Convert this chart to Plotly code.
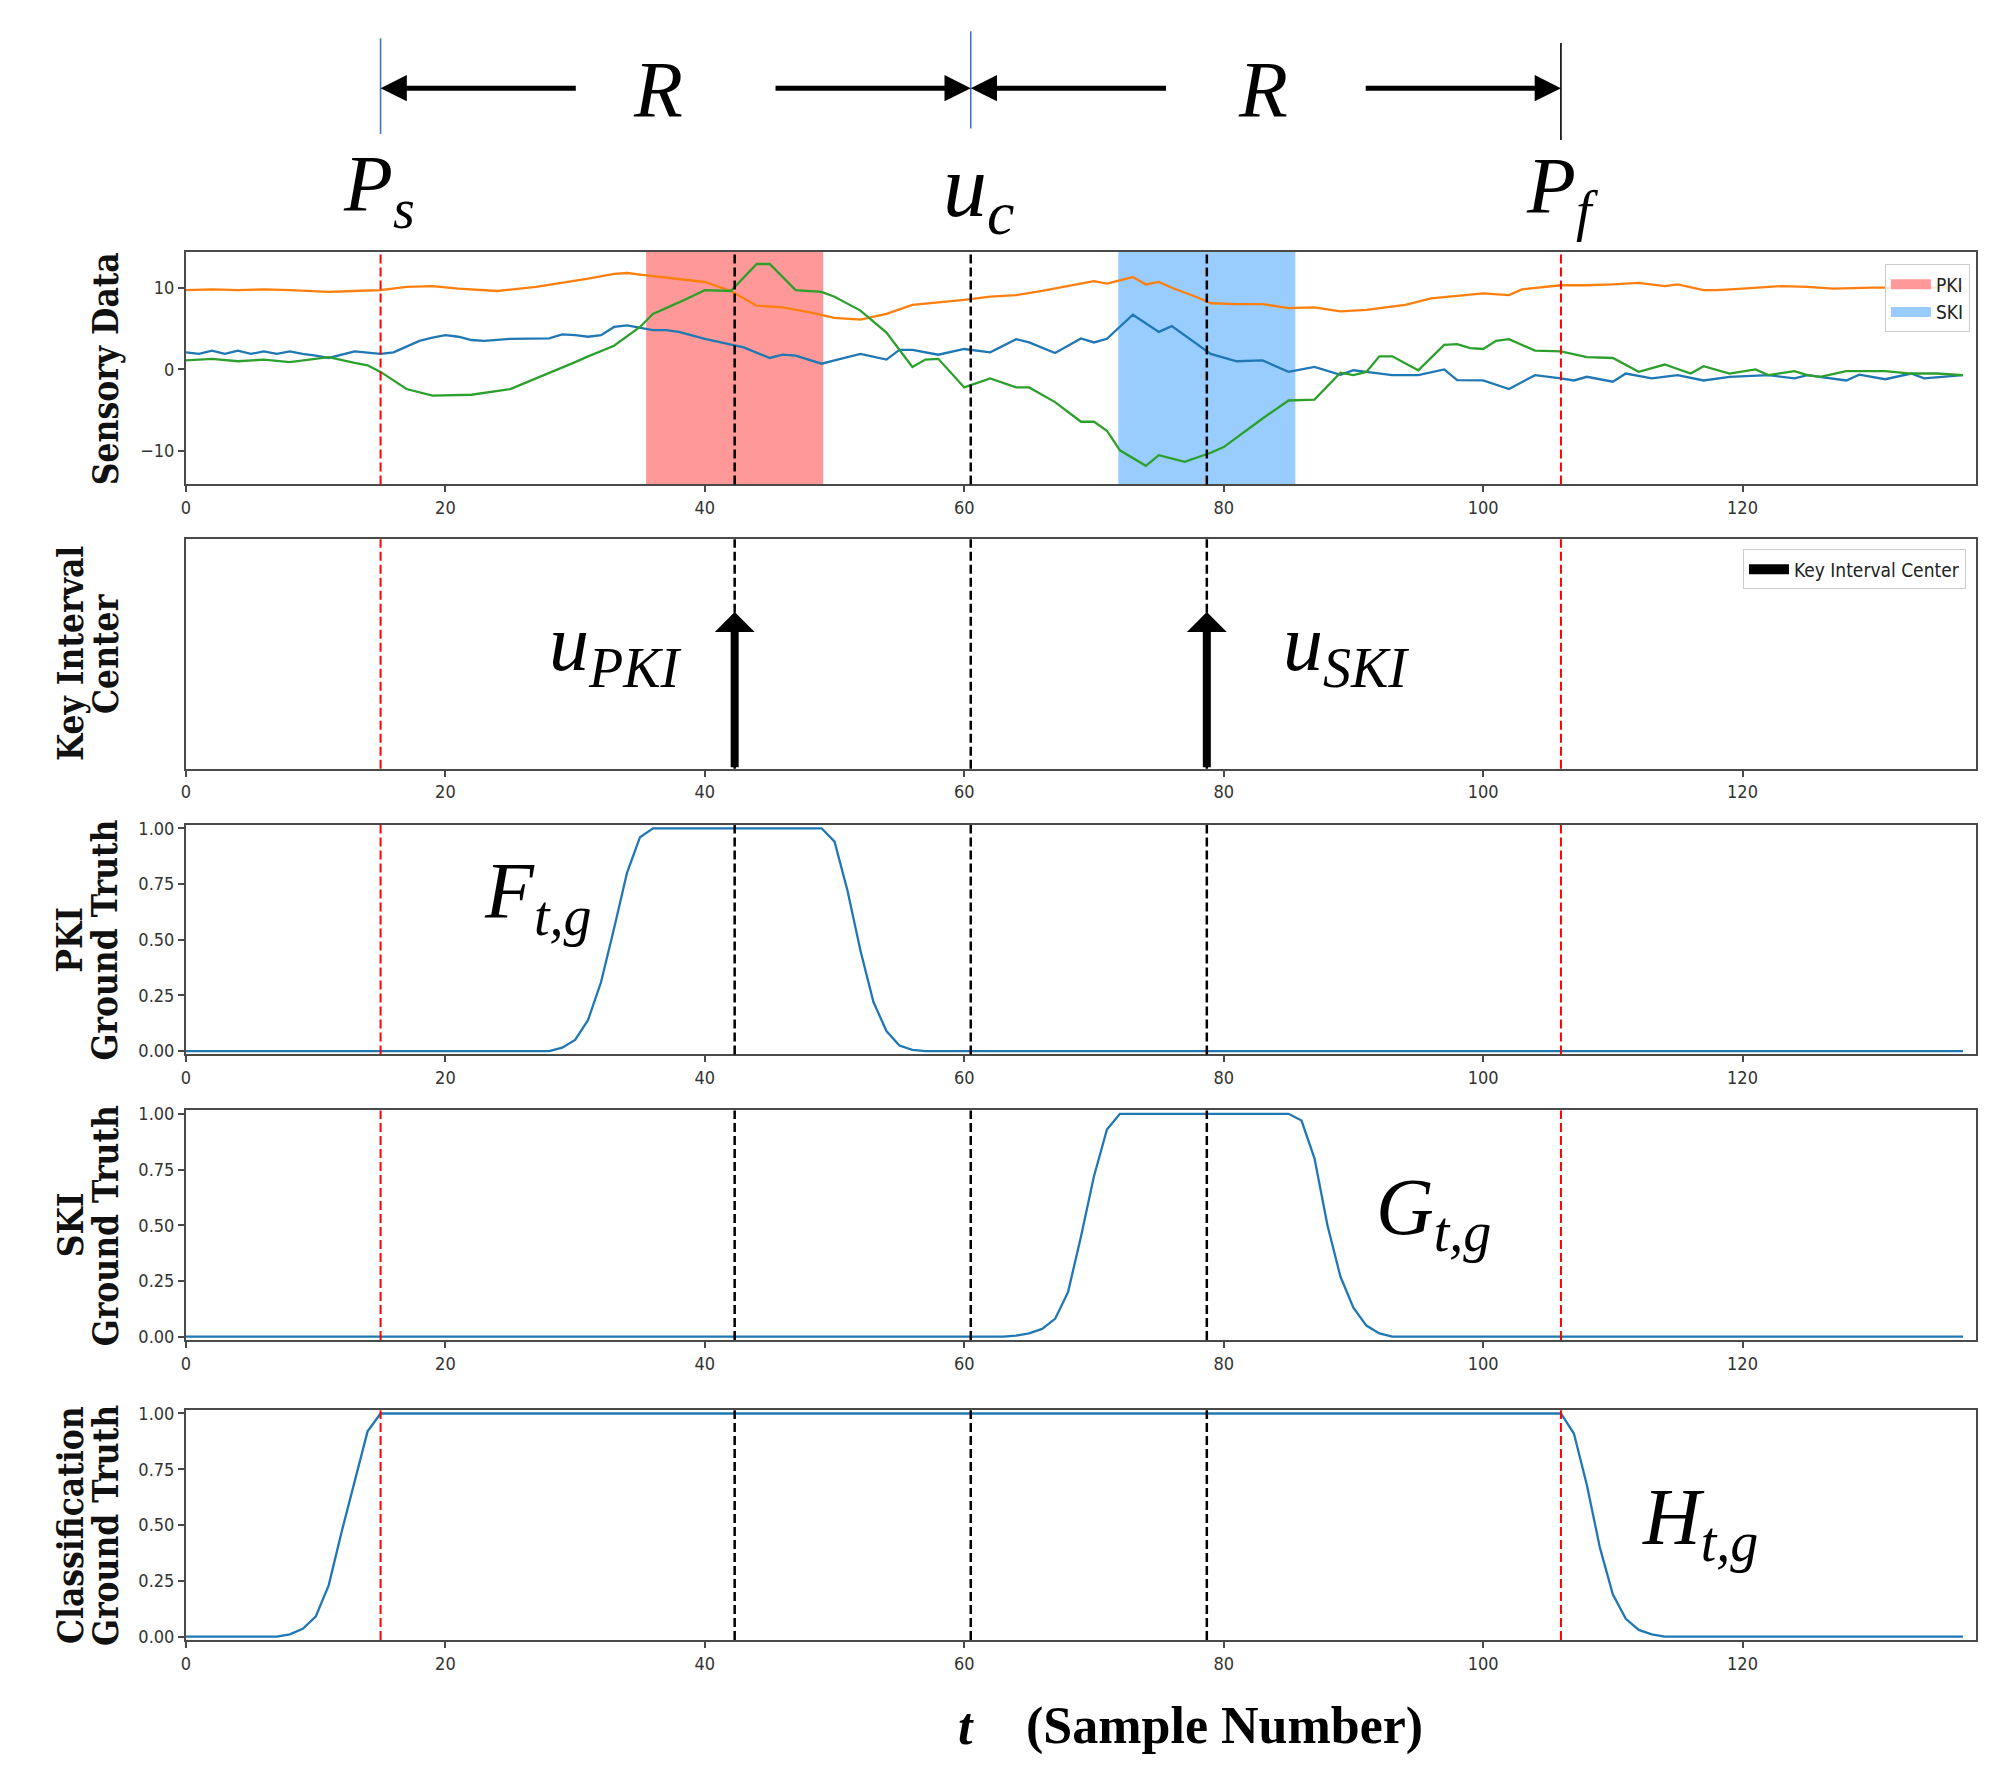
import plotly.graph_objects as go
from plotly.subplots import make_subplots

# ---------------- data ----------------
T_MAX = 138
PS = 15            # start of window
PF = 106           # end of window
UC = 60.5          # window centre
R = 45.5           # half window
PKI_CENTER = 42.3
SKI_CENTER = 78.7
PKI_SPAN = [35.475, 49.125]
SKI_SPAN = [71.875, 85.525]

# sensory channel 1 (blue)
blue_t = [0, 1, 2, 3, 4, 5, 6, 7, 8, 9, 10, 11, 13, 15, 16, 17, 18, 19, 20, 21, 22, 23, 25, 28, 29,
          30, 31, 32, 33, 34, 35, 36, 37, 38, 40, 42, 43, 45, 46, 47, 49, 50, 52, 54, 55, 56, 58,
          60, 62, 64, 65, 67, 69, 70, 71, 73, 75, 76, 79, 81, 83, 85, 87, 89, 90, 91, 93, 95, 97,
          98, 100, 102, 104, 106, 107, 108, 110, 111, 113, 115, 117, 119, 122, 124, 125, 128, 129,
          131, 133, 134, 137]
blue_v = [2.1, 1.9, 2.3, 1.9, 2.3, 1.9, 2.2, 1.9, 2.2, 1.9, 1.7, 1.4, 2.2, 1.9, 2.1, 2.8, 3.5,
          3.9, 4.2, 4.0, 3.6, 3.5, 3.75, 3.8, 4.3, 4.2, 4.0, 4.2, 5.2, 5.4, 5.1, 4.8, 4.8, 4.6,
          3.75, 3.0, 2.7, 1.4, 1.8, 1.7, 0.7, 1.1, 1.9, 1.2, 2.4, 2.4, 1.8, 2.5, 2.1, 3.7, 3.3,
          2.0, 3.8, 3.3, 3.75, 6.7, 4.6, 5.3, 1.9, 1.0, 1.1, -0.3, 0.3, -0.65, -0.1, -0.3, -0.7,
          -0.7, 0.0, -1.3, -1.35, -2.4, -0.7, -1.1, -1.35, -0.9, -1.5, -0.5, -1.1, -0.7, -1.35,
          -0.9, -0.7, -1.1, -0.7, -1.35, -0.65, -1.2, -0.5, -1.1, -0.7]

# sensory channel 2 (orange)
orange_t = [0, 2, 4, 6, 8, 10, 11, 13, 15, 17, 19, 21, 24, 27, 29, 31, 33, 34, 35, 38, 40, 42,
            44, 46, 48, 50, 52, 54, 56, 58, 60, 62, 64, 66, 68, 70, 71, 73, 74, 75, 76, 78, 79,
            81, 83, 85, 87, 89, 91, 94, 96, 98, 100, 102, 103, 106, 108, 110, 112, 114, 115, 117,
            118, 120, 122, 123, 125, 127, 130, 133, 137]
orange_v = [9.7, 9.8, 9.7, 9.8, 9.7, 9.6, 9.5, 9.6, 9.7, 10.1, 10.2, 9.9, 9.6, 10.1, 10.6, 11.1,
            11.7, 11.8, 11.6, 11.1, 10.7, 9.6, 7.8, 7.6, 7.0, 6.3, 6.1, 6.8, 7.9, 8.2, 8.5, 8.9,
            9.1, 9.6, 10.2, 10.8, 10.5, 11.3, 10.4, 10.7, 10.0, 8.8, 8.1, 8.0, 8.0, 7.5, 7.6, 7.1,
            7.3, 7.9, 8.7, 9.0, 9.3, 9.1, 9.8, 10.3, 10.3, 10.4, 10.6, 10.2, 10.4, 9.7, 9.7, 9.9,
            10.1, 10.2, 10.1, 9.9, 10.0, 10.0, 10.0]

# sensory channel 3 (green)
green_t = [0, 2, 4, 6, 8, 10, 11, 13, 14, 15, 17, 19, 22, 25, 27, 28, 30, 31, 33, 35, 36, 38, 40,
           42, 44, 45, 47, 49, 50, 52, 54, 56, 57, 58, 60, 62, 64, 65, 67, 69, 70, 71, 72, 74,
           75, 77, 79, 80, 82, 83, 85, 87, 89, 90, 91, 92, 93, 95, 97, 98, 99, 100, 101, 102,
           104, 106, 108, 110, 112, 114, 116, 117, 119, 121, 122, 124, 125, 126, 128, 131, 133,
           135, 137]
green_v = [1.1, 1.3, 1.0, 1.2, 0.9, 1.3, 1.5, 0.8, 0.5, -0.3, -2.4, -3.2, -3.1, -2.4, -1.1, -0.4,
           0.9, 1.6, 2.9, 5.2, 6.8, 8.2, 9.7, 9.6, 12.9, 12.9, 9.7, 9.5, 8.9, 7.2, 4.5, 0.3, 1.2,
           1.3, -2.2, -1.1, -2.2, -2.2, -4.0, -6.4, -6.4, -7.5, -9.9, -11.8, -10.5, -11.3, -10.2,
           -9.5, -7.1, -6.0, -3.8, -3.7, -0.4, -0.7, -0.3, 1.6, 1.6, -0.1, 3.0, 3.1, 2.6, 2.5,
           3.5, 3.7, 2.3, 2.2, 1.5, 1.4, -0.3, 0.6, -0.5, 0.4, -0.5, 0.0, -0.7, -0.2, -0.7, -0.9,
           -0.2, -0.2, -0.5, -0.5, -0.7]

# ground-truth curves
pki_t = [0, 28, 29, 30, 31, 32, 33, 34, 35, 36, 49, 50, 51, 52, 53, 54, 55, 56, 57, 137]
pki_v = [0, 0, 0.015, 0.05, 0.14, 0.31, 0.55, 0.8, 0.96, 1.0, 1.0, 0.94, 0.72, 0.45, 0.22, 0.09,
         0.025, 0.005, 0, 0]
ski_t = [0, 63, 64, 65, 66, 67, 68, 69, 70, 71, 72, 85, 86, 87, 88, 89, 90, 91, 92, 93, 137]
ski_v = [0, 0, 0.005, 0.015, 0.035, 0.08, 0.2, 0.45, 0.72, 0.93, 1.0, 1.0, 0.97, 0.8, 0.5, 0.27,
         0.13, 0.05, 0.015, 0.0, 0]
cls_t = [0, 7, 8, 9, 10, 11, 12, 13, 14, 15, 106, 107, 108, 109, 110, 111, 112, 113, 114, 137]
cls_v = [0, 0, 0.01, 0.035, 0.09, 0.23, 0.47, 0.7, 0.92, 1.0, 1.0, 0.91, 0.68, 0.4, 0.19, 0.08,
         0.03, 0.01, 0, 0]

x_ticks = [0, 20, 40, 60, 80, 100, 120]
sens_ticks = [-10, 0, 10]
gt_ticks = [0, 0.25, 0.5, 0.75, 1.0]

# ---------------- styles ----------------
C_BLUE, C_ORANGE, C_GREEN = "#1f77b4", "#ff7f0e", "#2ca02c"
C_PKI, C_SKI = "rgb(255,152,152)", "rgb(153,204,255)"
SPINE = "#4a4a4a"
TICK_FONT = dict(family="DejaVu Sans Condensed, DejaVu Sans, sans-serif", size=18, color="#333")
TITLE_FONT = dict(family="DejaVu Serif Condensed, DejaVu Serif, serif", size=35, color="#111",
                  weight="bold")
MATH_FONT = dict(family="Liberation Serif, serif", size=80, color="black")
LEG_FONT = dict(family="DejaVu Sans Condensed, DejaVu Sans, sans-serif", size=19, color="#222")

fig = make_subplots(rows=5, cols=1)
domains = [(0.8325, 1.0), (0.6277, 0.7930), (0.4219, 0.5872), (0.2161, 0.3815), (0.0, 0.1656)]

line_w = 2.3
fig.add_trace(go.Scatter(x=blue_t, y=blue_v, mode="lines", line=dict(color=C_BLUE, width=line_w),
                         showlegend=False), row=1, col=1)
fig.add_trace(go.Scatter(x=orange_t, y=orange_v, mode="lines",
                         line=dict(color=C_ORANGE, width=line_w), showlegend=False), row=1, col=1)
fig.add_trace(go.Scatter(x=green_t, y=green_v, mode="lines", line=dict(color=C_GREEN, width=line_w),
                         showlegend=False), row=1, col=1)
# legend entries (patch-like thick lines)
fig.add_trace(go.Scatter(x=[None], y=[None], mode="lines", name="PKI",
                         line=dict(color=C_PKI, width=14), legend="legend"), row=1, col=1)
fig.add_trace(go.Scatter(x=[None], y=[None], mode="lines", name="SKI",
                         line=dict(color=C_SKI, width=14), legend="legend"), row=1, col=1)
fig.add_trace(go.Scatter(x=[None], y=[None], mode="lines", name="Key Interval Center",
                         line=dict(color="black", width=14), legend="legend2"), row=2, col=1)

# ground truth panels
for r, (tt, vv) in zip([3, 4, 5], [(pki_t, pki_v), (ski_t, ski_v), (cls_t, cls_v)]):
    fig.add_trace(go.Scatter(x=tt, y=vv, mode="lines", line=dict(color=C_BLUE, width=line_w),
                             showlegend=False), row=r, col=1)

# panel 1: key-interval spans
fig.add_vrect(x0=PKI_SPAN[0], x1=PKI_SPAN[1], row=1, col=1, fillcolor=C_PKI, opacity=1,
              line_width=0, layer="below")
fig.add_vrect(x0=SKI_SPAN[0], x1=SKI_SPAN[1], row=1, col=1, fillcolor=C_SKI, opacity=1,
              line_width=0, layer="below")

# vertical reference lines in all panels
for r in range(1, 6):
    for xv in (PS, PF):
        fig.add_vline(x=xv, row=r, col=1, line=dict(color="red", width=2, dash="9px,4px"),
                      exclude_empty_subplots=False)
    for xv in (PKI_CENTER, UC, SKI_CENTER):
        fig.add_vline(x=xv, row=r, col=1, line=dict(color="black", width=2.5, dash="9px,4px"),
                      exclude_empty_subplots=False)

annotations = []
# key interval centre arrows (panel 2)
for xc in (PKI_CENTER, SKI_CENTER):
    annotations.append(dict(x=xc, y=0.683, xref="x2", yref="y2", ax=xc, ay=0, axref="x2",
                            ayref="y2", text="", showarrow=True, arrowhead=1, arrowsize=0.83,
                            arrowwidth=8, arrowcolor="black", standoff=0))

# header: window markers
HEAD_Y = 1.118
for tip, tail in [(PS, PS + R / 3), (UC, UC - R / 3), (UC, UC + R / 3), (PF, PF - R / 3)]:
    annotations.append(dict(x=tip, y=HEAD_Y, xref="x", yref="paper", ax=tail, ay=0, axref="x",
                            ayref="pixel", text="", showarrow=True, arrowhead=2, arrowsize=1.05,
                            arrowwidth=5, arrowcolor="black", standoff=0))
fig.add_shape(type="line", x0=PS, x1=PS, xref="x", yref="paper", y0=1.085, y1=1.154,
              line=dict(color="#4472C4", width=1.6))
fig.add_shape(type="line", x0=UC, x1=UC, xref="x", yref="paper", y0=1.089, y1=1.159,
              line=dict(color="#4472C4", width=1.6))
fig.add_shape(type="line", x0=PF, x1=PF, xref="x", yref="paper", y0=1.0807, y1=1.1506,
              line=dict(color="black", width=1.6))

def math(text, x, y, xref, yref, size=80):
    annotations.append(dict(text=text, x=x, y=y, xref=xref, yref=yref, showarrow=False,
                            xanchor="center", yanchor="middle", font={**MATH_FONT, "size": size}))

math("<i>R</i>", 36.4, 1.1167, "x", "paper")
math("<i>R</i>", 83.0, 1.1167, "x", "paper")
math("<i>P<sub>s</sub></i>", 14.9, 1.045, "x", "paper")
math("<i>u<sub>c</sub></i>", 61.1, 1.043, "x", "paper", 88)
math("<i>P<sub>f</sub></i>", 106.1, 1.043, "x", "paper")
math("<i>u<sub>PKI</sub></i>", 33.1, 0.52, "x2", "y2 domain")
math("<i>u<sub>SKI</sub></i>", 89.4, 0.52, "x2", "y2 domain")
math("<i>F<sub>t,g</sub></i>", 27.1, 0.686, "x3", "y3 domain")
math("<i>G<sub>t,g</sub></i>", 96.2, 0.553, "x4", "y4 domain")
math("<i>H<sub>t,g</sub></i>", 116.7, 0.508, "x5", "y5 domain")

# axis titles (rotated, two-line ones as separate lines)
def ytitle(text, xp, yref):
    annotations.append(dict(text=f"<b>{text}</b>", x=xp, y=0.5, xref="paper", yref=yref,
                            textangle=-90, showarrow=False, xanchor="center", yanchor="middle",
                            font=TITLE_FONT))

X_L1, X_L2 = -0.0648, -0.0453
ytitle("Sensory Data", X_L2, "y domain")
ytitle("Key Interval", X_L1, "y2 domain")
ytitle("Center", X_L2, "y2 domain")
ytitle("PKI", X_L1, "y3 domain")
ytitle("Ground Truth", X_L2, "y3 domain")
ytitle("SKI", X_L1, "y4 domain")
ytitle("Ground Truth", X_L2, "y4 domain")
ytitle("Classification", X_L1, "y5 domain")
ytitle("Ground Truth", X_L2, "y5 domain")

# bottom label
BOTTOM_FONT = dict(family="Liberation Serif, serif", size=52, color="black")
annotations.append(dict(text="<b><i>t</i></b>", x=0.436, y=-0.062, xref="paper", yref="paper",
                        showarrow=False, xanchor="center", yanchor="middle", font=BOTTOM_FONT))
annotations.append(dict(text="<b>(Sample Number)</b>", x=0.5804, y=-0.062, xref="paper",
                        yref="paper", showarrow=False, xanchor="center", yanchor="middle",
                        font=BOTTOM_FONT))

fig.update_layout(annotations=annotations)

# axes styling
for i in range(1, 6):
    sfx = "" if i == 1 else str(i)
    fig.layout["xaxis" + sfx].update(range=[0, T_MAX], tickvals=x_ticks, ticks="outside",
                                     ticklen=6, tickwidth=1.5, tickcolor=SPINE, showline=True,
                                     mirror=True, linecolor=SPINE, linewidth=2, showgrid=False,
                                     zeroline=False, tickfont=TICK_FONT)
    fig.layout["yaxis" + sfx].update(domain=domains[i - 1], showline=True, mirror=True,
                                     linecolor=SPINE, linewidth=2, showgrid=False, zeroline=False,
                                     ticks="outside", ticklen=6, tickwidth=1.5, tickcolor=SPINE,
                                     tickfont=TICK_FONT)
fig.layout.yaxis.update(range=[-14.08, 14.37], tickvals=sens_ticks)
fig.layout.yaxis2.update(range=[0, 1], showticklabels=False, ticks="")
for sfx in ("3", "4", "5"):
    fig.layout["yaxis" + sfx].update(range=[-0.015, 1.015], tickvals=gt_ticks, tickformat=".2f")

legend_style = dict(bgcolor="rgba(255,255,255,0.85)", bordercolor="#cccccc", borderwidth=1,
                    font=LEG_FONT, xanchor="right", yanchor="top", itemwidth=40,
                    tracegroupgap=2)
# the page body has an 8px margin: size the figure to sit exactly in the window
fig.update_layout(
    width=1983, height=1760,
    margin=dict(l=178, r=15, t=244, b=128),
    paper_bgcolor="white", plot_bgcolor="white",
    legend=dict(x=0.9966, y=0.991, **legend_style),
    legend2=dict(x=0.9944, y=0.7857, **legend_style),
)

fig.write_html("out.html")
